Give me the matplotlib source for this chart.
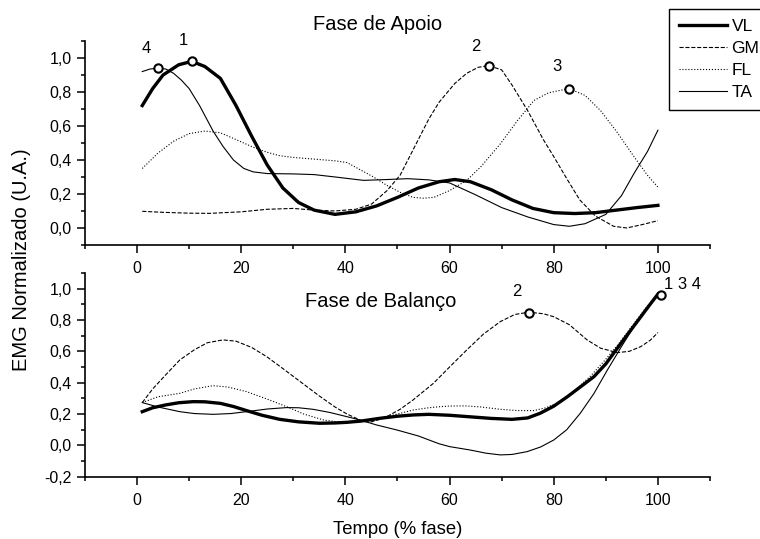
import matplotlib
matplotlib.use('Agg')
import matplotlib.pyplot as plt
from matplotlib.ticker import FixedLocator
from matplotlib.lines import Line2D

plt.rcParams['font.family'] = ['Liberation Sans', 'DejaVu Sans']

# ---- Fase de Apoio (top panel) ----
vl_apoio_x = [1, 3, 5, 8, 10.5, 13, 16, 19, 22, 25, 28, 31, 34, 38, 42, 46, 50, 54, 58, 61, 64, 68, 72, 76, 80, 84, 88, 92, 96, 100]
vl_apoio_y = [0.72, 0.82, 0.90, 0.96, 0.98, 0.95, 0.88, 0.72, 0.54, 0.37, 0.235, 0.15, 0.105, 0.08, 0.095, 0.13, 0.18, 0.235, 0.272, 0.285, 0.272, 0.225, 0.165, 0.115, 0.09, 0.085, 0.09, 0.105, 0.12, 0.133]

gm_apoio_x = [1, 5, 10, 14, 20, 25, 30, 34, 38, 42, 45, 48, 50.5, 53, 56, 58, 61, 63.3, 65.5, 67.5, 70, 72, 75, 78, 80, 82.5, 85, 88, 91.5, 94, 97, 100]
gm_apoio_y = [0.098, 0.092, 0.087, 0.086, 0.095, 0.11, 0.115, 0.105, 0.10, 0.11, 0.14, 0.22, 0.31, 0.46, 0.64, 0.74, 0.85, 0.91, 0.945, 0.955, 0.93, 0.84, 0.69, 0.52, 0.42, 0.29, 0.165, 0.07, 0.01, 0.0, 0.02, 0.043]

fl_apoio_x = [1, 4, 7, 10, 13, 16, 19, 22.3, 25, 27.4, 30, 34, 38, 40.3, 43, 45.4, 48, 50.5, 53, 55, 57, 60, 63.3, 66, 69.75, 73, 76.2, 79, 82.9, 86, 89, 92, 95.4, 98, 100]
fl_apoio_y = [0.35, 0.44, 0.51, 0.555, 0.57, 0.56, 0.52, 0.475, 0.445, 0.425, 0.415, 0.405, 0.395, 0.385, 0.34, 0.30, 0.25, 0.21, 0.18, 0.175, 0.18, 0.22, 0.28, 0.36, 0.495, 0.63, 0.75, 0.795, 0.82, 0.78, 0.69, 0.57, 0.42, 0.31, 0.24]

ta_apoio_x = [1, 2.5, 4, 5.5, 7, 8.5, 10, 12, 14.6, 16.5, 18.5, 20.5, 22.3, 25, 30, 34, 38, 43.5, 48, 52, 56, 60, 65, 70, 75, 80, 83, 86, 90, 93, 95.4, 98, 100]
ta_apoio_y = [0.92, 0.935, 0.94, 0.935, 0.91, 0.87, 0.82, 0.72, 0.57, 0.48, 0.40, 0.35, 0.33, 0.32, 0.318, 0.314, 0.30, 0.28, 0.285, 0.29, 0.283, 0.265, 0.195, 0.12, 0.065, 0.02, 0.01, 0.025, 0.08, 0.19, 0.32, 0.45, 0.575]

# peaks marked with circles and numbers
apoio_peak_x = [10.5, 67.5, 83, 4]
apoio_peak_y = [0.98, 0.955, 0.82, 0.94]
apoio_peak_txt = ['1', '2', '3', '4']
apoio_txt_x = [8.85, 65.1, 80.7, 1.8]
apoio_txt_y = [1.10, 1.066, 0.951, 1.055]

# ---- Fase de Balanco (bottom panel) ----
vl_bal_x = [1, 3, 5.5, 8, 10.8, 13, 16, 18.5, 21, 24, 27.4, 31, 35, 38, 40.3, 43, 46.7, 50, 53, 56, 60, 64, 68, 72, 75, 77.4, 80, 82.6, 85, 87.7, 90, 91.5, 94, 96.7, 98.5, 100]
vl_bal_y = [0.215, 0.24, 0.258, 0.272, 0.279, 0.278, 0.268, 0.248, 0.222, 0.192, 0.166, 0.15, 0.141, 0.143, 0.147, 0.155, 0.173, 0.186, 0.194, 0.198, 0.192, 0.182, 0.172, 0.166, 0.175, 0.205, 0.25, 0.31, 0.37, 0.438, 0.52, 0.588, 0.70, 0.82, 0.90, 0.965]

gm_bal_x = [1, 3, 5.5, 8.2, 11, 13.5, 16.5, 19, 22, 24.9, 28, 30, 32.6, 35, 38, 40.3, 43.5, 45, 47.5, 50.5, 53, 56.9, 60, 63.3, 66.5, 69.75, 72.5, 75.2, 78, 80, 83, 86.4, 89, 92.2, 94.5, 96.7, 98.5, 100]
gm_bal_y = [0.273, 0.36, 0.45, 0.545, 0.61, 0.655, 0.673, 0.665, 0.625, 0.566, 0.49, 0.44, 0.375, 0.315, 0.245, 0.20, 0.151, 0.15, 0.175, 0.23, 0.29, 0.396, 0.50, 0.609, 0.71, 0.79, 0.835, 0.85, 0.84, 0.821, 0.77, 0.673, 0.62, 0.592, 0.60, 0.63, 0.67, 0.72]

fl_bal_x = [1, 4, 8.2, 11, 14.6, 17.5, 21, 25, 28.7, 32, 35.8, 38.5, 41, 43.5, 46.7, 50, 53.1, 56, 58.2, 60.1, 63, 66, 69.75, 73, 76.2, 78.5, 81.3, 84, 87, 90, 92.5, 95, 97.5, 100]
fl_bal_y = [0.273, 0.31, 0.332, 0.36, 0.381, 0.372, 0.343, 0.295, 0.247, 0.20, 0.162, 0.15, 0.152, 0.158, 0.173, 0.20, 0.226, 0.24, 0.247, 0.251, 0.252, 0.245, 0.23, 0.222, 0.222, 0.24, 0.279, 0.35, 0.44, 0.55, 0.65, 0.76, 0.87, 0.96]

ta_bal_x = [1, 4, 8.2, 11, 14.6, 18, 21, 25, 28.7, 31, 33.8, 37, 40.3, 43, 46, 49.9, 54, 58, 60, 64, 67, 69.75, 72, 74.9, 77.5, 80, 82.5, 85.1, 87.7, 90.3, 93, 95.4, 98, 100]
ta_bal_y = [0.273, 0.245, 0.215, 0.203, 0.198, 0.203, 0.215, 0.232, 0.241, 0.24, 0.23, 0.21, 0.183, 0.16, 0.13, 0.098, 0.06, 0.01, -0.008, -0.03, -0.05, -0.061, -0.058, -0.04, -0.01, 0.034, 0.10, 0.205, 0.33, 0.481, 0.63, 0.758, 0.88, 0.96]

bal_peak_x = [75.2, 100.6]
bal_peak_y = [0.845, 0.96]
bal_peak_txt = ['2', '1 3 4']
bal_txt_x = [73.0, 101.1]
bal_txt_y = [0.98, 1.024]

series_names = ['VL', 'GM', 'FL', 'TA']
x_ticks = [0, 20, 40, 60, 80, 100]
x_ticklabels = ['0', '20', '40', '60', '80', '100']
top_yticks = [0.0, 0.2, 0.4, 0.6, 0.8, 1.0]
top_yticklabels = ['0,0', '0,2', '0,4', '0,6', '0,8', '1,0']
bot_yticks = [-0.2, 0.0, 0.2, 0.4, 0.6, 0.8, 1.0]
bot_yticklabels = ['-0,2', '0,0', '0,2', '0,4', '0,6', '0,8', '1,0']

styles = {
    'VL': dict(color='black', lw=2.4, ls='-'),
    'GM': dict(color='black', lw=0.8, ls='--'),
    'FL': dict(color='black', lw=0.8, ls=':'),
    'TA': dict(color='black', lw=0.8, ls='-'),
}

fig = plt.figure(figsize=(7.6, 5.39), dpi=100)
ax1 = fig.add_axes([0.1118, 0.5455, 0.8224, 0.3785])
ax2 = fig.add_axes([0.1118, 0.1156, 0.8224, 0.3779])


def style_axis(ax, ylim, yticks, yticklabels):
    ax.set_xlim(-10, 110)
    ax.set_ylim(*ylim)
    for s in ['top', 'right']:
        ax.spines[s].set_visible(False)
    for s in ['left', 'bottom']:
        ax.spines[s].set_linewidth(1.2)
    ax.set_xticks(x_ticks)
    ax.set_xticklabels(x_ticklabels)
    ax.xaxis.set_minor_locator(FixedLocator([-10, 10, 30, 50, 70, 90, 110]))
    ax.set_yticks(yticks)
    ax.set_yticklabels(yticklabels)
    minor_y = [round(v + 0.1, 2) for v in yticks] + [round(yticks[0] + 0.1 - 0.2, 2)]
    ax.yaxis.set_minor_locator(FixedLocator(minor_y))
    ax.tick_params(which='major', direction='out', length=5.5, width=1.1, labelsize=11.5)
    ax.tick_params(which='minor', direction='out', length=3, width=1.1)
    ax.tick_params(axis='x', which='major', pad=6)
    ax.tick_params(axis='y', which='major', pad=4)


ax1.plot(vl_apoio_x, vl_apoio_y, **styles['VL'])
ax1.plot(gm_apoio_x, gm_apoio_y, **styles['GM'])
ax1.plot(fl_apoio_x, fl_apoio_y, **styles['FL'])
ax1.plot(ta_apoio_x, ta_apoio_y, **styles['TA'])
ax1.plot(apoio_peak_x, apoio_peak_y, 'o', mfc='white', mec='black', ms=6, mew=1.5)
for tx, ty, t in zip(apoio_txt_x, apoio_txt_y, apoio_peak_txt):
    ax1.text(tx, ty, t, fontsize=12, ha='center', va='center')
ax1.text(46.2, 1.195, 'Fase de Apoio', fontsize=14.5, ha='center', va='center', clip_on=False)
style_axis(ax1, (-0.1, 1.1), top_yticks, top_yticklabels)

ax2.plot(vl_bal_x, vl_bal_y, **styles['VL'])
ax2.plot(gm_bal_x, gm_bal_y, **styles['GM'])
ax2.plot(fl_bal_x, fl_bal_y, **styles['FL'])
ax2.plot(ta_bal_x, ta_bal_y, **styles['TA'])
ax2.plot(bal_peak_x, bal_peak_y, 'o', mfc='white', mec='black', ms=6, mew=1.5, clip_on=False)
ax2.text(bal_txt_x[0], bal_txt_y[0], bal_peak_txt[0], fontsize=12, ha='center', va='center')
ax2.text(bal_txt_x[1], bal_txt_y[1], bal_peak_txt[1], fontsize=12, ha='left', va='center', clip_on=False)
ax2.text(46.7, 0.917, 'Fase de Balanço', fontsize=14.5, ha='center', va='center')
style_axis(ax2, (-0.2, 1.1), bot_yticks, bot_yticklabels)

fig.text(397.3 / 760, 1 - 529 / 539, 'Tempo (% fase)', fontsize=13.3, ha='center', va='center')
fig.text(21.7 / 760, 1 - 260 / 539, 'EMG Normalizado (U.A.)', fontsize=14.5,
         ha='center', va='center', rotation=90)

handles = [Line2D([], [], **styles[n]) for n in series_names]
leg = fig.legend(handles, series_names, loc='upper left',
                 bbox_to_anchor=(669 / 760, 1 - 9.3 / 539), borderaxespad=0,
                 fontsize=12.5, handlelength=2.8, handletextpad=0.25,
                 labelspacing=0.4, borderpad=0.55, fancybox=False, framealpha=1)
leg.get_frame().set_edgecolor('black')
leg.get_frame().set_linewidth(1.0)

fig.savefig('out.png', dpi=100)
